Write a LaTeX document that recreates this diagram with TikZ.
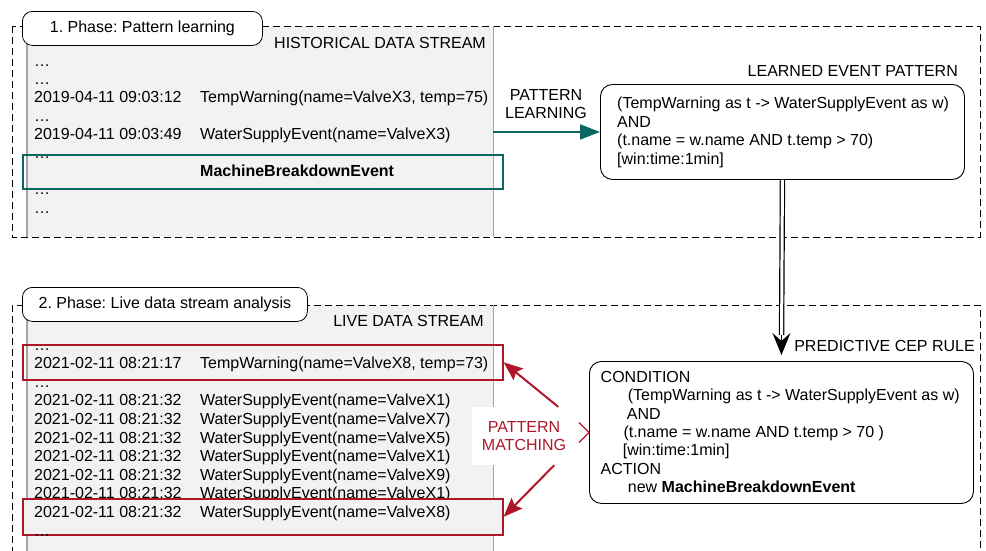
\documentclass[tikz,border=0pt]{standalone}
\usepackage{fontspec}
\setmainfont{Liberation Sans}
\usetikzlibrary{arrows.meta}

\definecolor{panelgray}{RGB}{242,242,242}
\definecolor{panelrule}{RGB}{165,165,165}
\definecolor{learnteal}{RGB}{14,102,96}
\definecolor{matchred}{RGB}{176,22,42}

\newcommand{\evrow}[2]{\makebox[166pt][l]{#1}#2}

\begin{document}
\frenchspacing
\begin{tikzpicture}[x=1pt,y=-1pt,
		every node/.style={inner sep=0pt, font=\fontsize{16}{18.4}\selectfont},
		txt/.style={anchor=base west},
		title/.style={anchor=base east},
		frame/.style={draw=black, line width=0.8pt, dash pattern=on 7pt off 4pt},
		panel/.style={fill=panelgray, anchor=north west},
		edge/.style={draw=panelrule, line width=1.5pt},
		phasebox/.style={draw=black, fill=white, rounded corners=10pt, line width=0.8pt, anchor=north west, minimum height=34pt},
		patternbox/.style={draw=black, fill=white, rounded corners=12pt, line width=0.9pt, anchor=north west},
		hit/.style={draw=#1, line width=1.6pt, anchor=north west, minimum width=480pt},
		learnarrow/.style={draw=learnteal, line width=2pt, -{Triangle[length=20pt,width=15pt]}},
		matcharrow/.style={draw=matchred, line width=2pt, -{Stealth[length=19pt,width=15pt,inset=3pt]}},
		dbl/.style={double, double distance=3pt, line width=1.2pt},
	]
		\useasboundingbox (0,0) rectangle (986,550);

		% 1. phase
		\node[panel, minimum width=466pt, minimum height=211pt] (hist) at (27,26) {};
		\draw[frame] (12,26) rectangle (980,237);
		\draw[edge] (hist.north west) -- (hist.south west);
		\draw[edge] (hist.north east) -- (hist.south east);
		\node[phasebox, minimum width=240pt] (phase1) at (22,11) {1. Phase: Pattern learning};
		\node[title] (histtitle) at (486,48) {HISTORICAL DATA STREAM};
		\node[txt] (h1) at (34,66) {…};
		\node[txt] (h2) at (34,84.4) {…};
		\node[txt] (h3) at (34,102.8) {\evrow{2019-04-11 09:03:12}{TempWarning(name=ValveX3, temp=75)}};
		\node[txt] (h4) at (34,121.2) {…};
		\node[txt] (h5) at (34,139.6) {\evrow{2019-04-11 09:03:49}{WaterSupplyEvent(name=ValveX3)}};
		\node[txt] (h6) at (34,158) {…};
		\node[txt] (h7) at (200,176.4) {\textbf{MachineBreakdownEvent}};
		\node[txt] (h8) at (34,194.8) {…};
		\node[txt] (h9) at (34,213.2) {…};
		\node[hit=learnteal, minimum height=34pt] (mbebox) at (22,154) {};

		\node[patternbox, minimum width=364pt, minimum height=95pt] (learned) at (600,84) {};
		\node[title] (learnedtitle) at (958,76) {LEARNED EVENT PATTERN};
		\node[txt] (l1) at (617,108.5) {(TempWarning as t -> WaterSupplyEvent as w)};
		\node[txt] (l2) at (617,127) {AND};
		\node[txt] (l3) at (617,145.5) {(t.name = w.name AND t.temp > 70)};
		\node[txt] (l4) at (617,164) {[win:time:1min]};

		\node[align=center] (learnlabel) at (546,104) {PATTERN\\LEARNING};
		\draw[learnarrow] (learned.west -| hist.east) -- (learned.west);

		% 2. phase
		\node[panel, minimum width=466pt, minimum height=265pt] (live) at (27,305) {};
		\draw[frame] (12,305) rectangle (980,575);
		\draw[edge] (live.north west) -- (live.south west);
		\draw[edge] (live.north east) -- (live.south east);
		\node[phasebox, minimum width=285pt] (phase2) at (22,287) {2. Phase: Live data stream analysis};
		\node[title] (livetitle) at (484,326) {LIVE DATA STREAM};
		\node[txt] (r1) at (34,350) {…};
		\node[txt] (r2) at (34,368.6) {\evrow{2021-02-11 08:21:17}{TempWarning(name=ValveX8, temp=73)}};
		\node[txt] (r3) at (34,387.2) {…};
		\foreach \valve [count=\i from 4] in {X1,X7,X5,X1,X9,X1}
			\node[txt] (r\i) at (34,{350+(\i-1)*18.6}) {\evrow{2021-02-11 08:21:32}{WaterSupplyEvent(name=Valve\valve)}};
		\node[hit=matchred, minimum height=35pt] (warnbox) at (22,344) {};
		\node[hit=matchred, fill=panelgray, minimum height=36pt] (supplybox) at (22,498) {};
		\node[txt] (r10) at (34,517.4) {\evrow{2021-02-11 08:21:32}{WaterSupplyEvent(name=ValveX8)}};
		\node[txt] (r11) at (34,536) {…};

		\node[patternbox, minimum width=384pt, minimum height=142pt] (rule) at (589,361) {};
		\node[title] (ruletitle) at (975,351) {PREDICTIVE CEP RULE};
		\node[txt] (c1) at (600.5,382) {CONDITION};
		\node[txt] (c2) at (627.7,400.5) {(TempWarning as t -> WaterSupplyEvent as w)};
		\node[txt] (c3) at (626.7,419) {AND};
		\node[txt] (c4) at (623.3,437) {(t.name = w.name AND t.temp > 70 )};
		\node[txt] (c5) at (622.7,455.5) {[win:time:1min]};
		\node[txt] (c6) at (600.5,474) {ACTION};
		\node[txt] (c7) at (627.7,492.5) {new \textbf{MachineBreakdownEvent}};

		\node[fill=white, minimum width=104pt, minimum height=58pt, align=center, text=matchred] (match) at (524,436) {PATTERN\\MATCHING};
		\draw[matcharrow] ([xshift=-18pt]match.north east) -- (warnbox.east);
		\draw[matcharrow] ([xshift=-22pt]match.south east) -- (supplybox.east);
		\draw[matchred, line width=1.3pt] ([xshift=-10pt,yshift=10pt]rule.west) -- (rule.west) -- ([xshift=-10pt,yshift=-10pt]rule.west);

		% learned pattern -> rule
		\draw[dbl, shorten >=20pt] (learned.south) -- ([yshift=6pt]rule.north);
		\draw[line width=1pt, -{Stealth[length=22pt,width=18pt,inset=8pt]}] ([yshift=26pt]rule.north) -- ([yshift=6pt]rule.north);
	\end{tikzpicture}
\end{document}
